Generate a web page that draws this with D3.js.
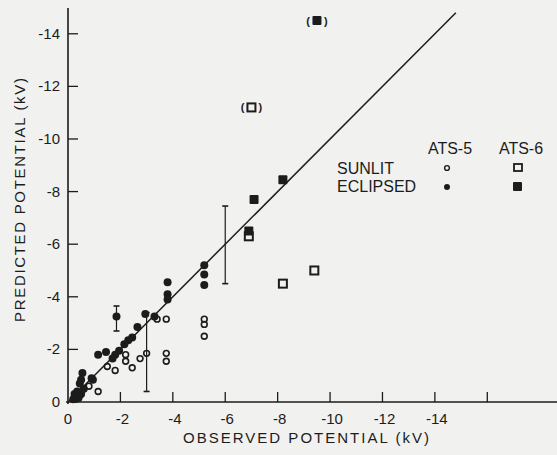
<!DOCTYPE html>
<html>
<head>
<meta charset="utf-8">
<script src="https://cdn.jsdelivr.net/npm/d3@7"></script>
<style>
  html, body { margin: 0; padding: 0; background: #f1f1ef; }
  svg { display: block; }
  text { font-family: 'Liberation Sans', Arial, sans-serif; fill: #1c1c1c; }
</style>
</head>
<body>
<svg id="chart" width="557" height="455"></svg>
<script>
// observed vs predicted potential (kV)
const xTicks = [0, -2, -4, -6, -8, -10, -12, -14, -16];
const xTickLabels = ['0', '-2', '-4', '-6', '-8', '-10', '-12', '-14', ''];
const yTicks = [0, -2, -4, -6, -8, -10, -12, -14];
const yTickLabels = ['0', '-2', '-4', '-6', '-8', '-10', '-12', '-14'];

const ats5Sunlit = [
  [-5.2, -3.15], [-5.2, -2.95], [-5.2, -2.5],
  [-3.4, -3.15], [-3.75, -3.15], [-3.75, -1.85], [-3.75, -1.55],
  [-3.0, -1.85], [-2.75, -1.65], [-2.45, -1.3], [-2.2, -1.8], [-2.2, -1.55],
  [-1.5, -1.35], [-1.8, -1.2], [-1.15, -0.4],
  [-0.6, -0.5], [-0.8, -0.6], [-0.3, -0.1], [-0.45, -0.25],
];
const ats5Eclipsed = [
  [-5.2, -5.2], [-5.2, -4.85], [-5.2, -4.45],
  [-3.8, -4.55], [-3.8, -4.1], [-3.8, -3.9],
  [-3.3, -3.25], [-2.95, -3.35], [-2.65, -2.85], [-1.85, -3.25],
  [-2.45, -2.45], [-2.3, -2.35], [-2.15, -2.2], [-1.95, -1.95], [-1.8, -1.8], [-1.7, -1.65],
  [-1.45, -1.9], [-1.15, -1.8], [-0.9, -0.9], [-0.95, -0.85],
  [-0.55, -1.1], [-0.5, -0.85], [-0.45, -0.7],
  [-0.2, -0.1], [-0.3, -0.2], [-0.4, -0.15], [-0.5, -0.3], [-0.35, -0.4], [-0.6, -0.5], [-0.25, -0.3],
];
const ats6Sunlit = [[-7.0, -11.2], [-6.9, -6.3], [-8.2, -4.5], [-9.4, -5.0]];
const ats6Eclipsed = [[-9.5, -14.5], [-8.2, -8.45], [-7.1, -7.7], [-6.9, -6.5]];
const bracketed = [[-7.0, -11.2], [-9.5, -14.5]];
// [observed, low, high]
const errorBars = [[-6.0, -4.5, -7.45], [-3.0, -0.4, -3.4], [-1.85, -2.7, -3.65]];
const fitLine = [[0, 0], [-14.8, -14.8]];

const ink = '#1c1c1c';
const svg = d3.select('#chart');

const x = d3.scaleLinear().domain([0, -18.66]).range([68, 557]);
const y = d3.scaleLinear().domain([0, -14.98]).range([402, 8]);

const g = svg.append('g');

// axes
g.append('line').attr('x1', 66).attr('x2', 557).attr('y1', y(0)).attr('y2', y(0))
  .attr('stroke', ink).attr('stroke-width', 1.6);
g.append('line').attr('x1', x(0)).attr('x2', x(0)).attr('y1', y(0) + 2).attr('y2', y(-14.98))
  .attr('stroke', ink).attr('stroke-width', 1.6);

// x ticks point up into the plot
g.selectAll('.xt').data(xTicks.slice(1)).enter().append('line')
  .attr('x1', (d) => x(d)).attr('x2', (d) => x(d))
  .attr('y1', y(0)).attr('y2', y(0) - 10)
  .attr('stroke', ink).attr('stroke-width', 1.3);
g.selectAll('.xl').data(xTicks).enter().append('text')
  .attr('x', (d) => x(d) + (d === 0 ? 0 : 2))
  .attr('y', 424)
  .attr('text-anchor', 'middle')
  .attr('font-size', 15)
  .text((d, i) => xTickLabels[i]);

// y ticks point right into the plot
g.selectAll('.yt').data(yTicks.slice(1)).enter().append('line')
  .attr('x1', x(0)).attr('x2', x(0) + 10)
  .attr('y1', (d) => y(d)).attr('y2', (d) => y(d))
  .attr('stroke', ink).attr('stroke-width', 1.3);
g.selectAll('.yl').data(yTicks).enter().append('text')
  .attr('x', 60)
  .attr('y', (d) => y(d) + 5)
  .attr('text-anchor', 'end')
  .attr('font-size', 15)
  .text((d, i) => yTickLabels[i]);

// axis titles
g.append('text').attr('x', 306).attr('y', 443).attr('text-anchor', 'middle')
  .attr('font-size', 15).attr('textLength', 246).text('OBSERVED POTENTIAL (kV)');
g.append('text').attr('transform', 'translate(25,200) rotate(-90)').attr('text-anchor', 'middle')
  .attr('font-size', 15).attr('textLength', 244).text('PREDICTED POTENTIAL (kV)');

// y = x line
g.append('path').datum(fitLine)
  .attr('d', d3.line().x((d) => x(d[0])).y((d) => y(d[1])))
  .attr('fill', 'none').attr('stroke', ink).attr('stroke-width', 1.5);

// error bars
errorBars.forEach(([ox, lo, hi]) => {
  g.append('line').attr('x1', x(ox)).attr('x2', x(ox)).attr('y1', y(lo)).attr('y2', y(hi))
    .attr('stroke', ink).attr('stroke-width', 1.2);
  [lo, hi].forEach((v) => {
    g.append('line').attr('x1', x(ox) - 3).attr('x2', x(ox) + 3).attr('y1', y(v)).attr('y2', y(v))
      .attr('stroke', ink).attr('stroke-width', 1.6);
  });
});

// ATS-5 points
g.selectAll('.s5').data(ats5Sunlit).enter().append('circle')
  .attr('cx', (d) => x(d[0])).attr('cy', (d) => y(d[1])).attr('r', 2.9)
  .attr('fill', 'none').attr('stroke', ink).attr('stroke-width', 1.6);
g.selectAll('.e5').data(ats5Eclipsed).enter().append('circle')
  .attr('cx', (d) => x(d[0])).attr('cy', (d) => y(d[1])).attr('r', 4)
  .attr('fill', ink);

// ATS-6 points
g.selectAll('.s6').data(ats6Sunlit).enter().append('rect')
  .attr('x', (d) => x(d[0]) - 4).attr('y', (d) => y(d[1]) - 4).attr('width', 8).attr('height', 8)
  .attr('fill', 'none').attr('stroke', ink).attr('stroke-width', 2);
g.selectAll('.e6').data(ats6Eclipsed).enter().append('rect')
  .attr('x', (d) => x(d[0]) - 4.5).attr('y', (d) => y(d[1]) - 4.5).attr('width', 9).attr('height', 9)
  .attr('rx', 1).attr('fill', ink);

// parentheses around uncertain points
bracketed.forEach(([ox, oy]) => {
  g.append('text').attr('x', x(ox) - 7).attr('y', y(oy) + 4).attr('text-anchor', 'end')
    .attr('font-size', 11).attr('font-weight', 'bold').text('(');
  g.append('text').attr('x', x(ox) + 7).attr('y', y(oy) + 4).attr('text-anchor', 'start')
    .attr('font-size', 11).attr('font-weight', 'bold').text(')');
});

// legend
const leg = g.append('g');
leg.append('text').attr('x', 450).attr('y', 154).attr('text-anchor', 'middle')
  .attr('font-size', 16).text('ATS-5');
leg.append('text').attr('x', 521).attr('y', 154).attr('text-anchor', 'middle')
  .attr('font-size', 16).text('ATS-6');
leg.append('text').attr('x', 337).attr('y', 174).attr('font-size', 16).text('SUNLIT');
leg.append('text').attr('x', 337).attr('y', 192).attr('font-size', 16).text('ECLIPSED');
leg.append('circle').attr('cx', 447).attr('cy', 168).attr('r', 2.4)
  .attr('fill', 'none').attr('stroke', ink).attr('stroke-width', 1.4);
leg.append('circle').attr('cx', 447).attr('cy', 187).attr('r', 3)
  .attr('fill', ink);
leg.append('rect').attr('x', 514).attr('y', 164).attr('width', 8).attr('height', 7)
  .attr('fill', 'none').attr('stroke', ink).attr('stroke-width', 1.8);
leg.append('rect').attr('x', 513).attr('y', 182).attr('width', 9).attr('height', 9)
  .attr('rx', 1).attr('fill', ink);
</script>
</body>
</html>
